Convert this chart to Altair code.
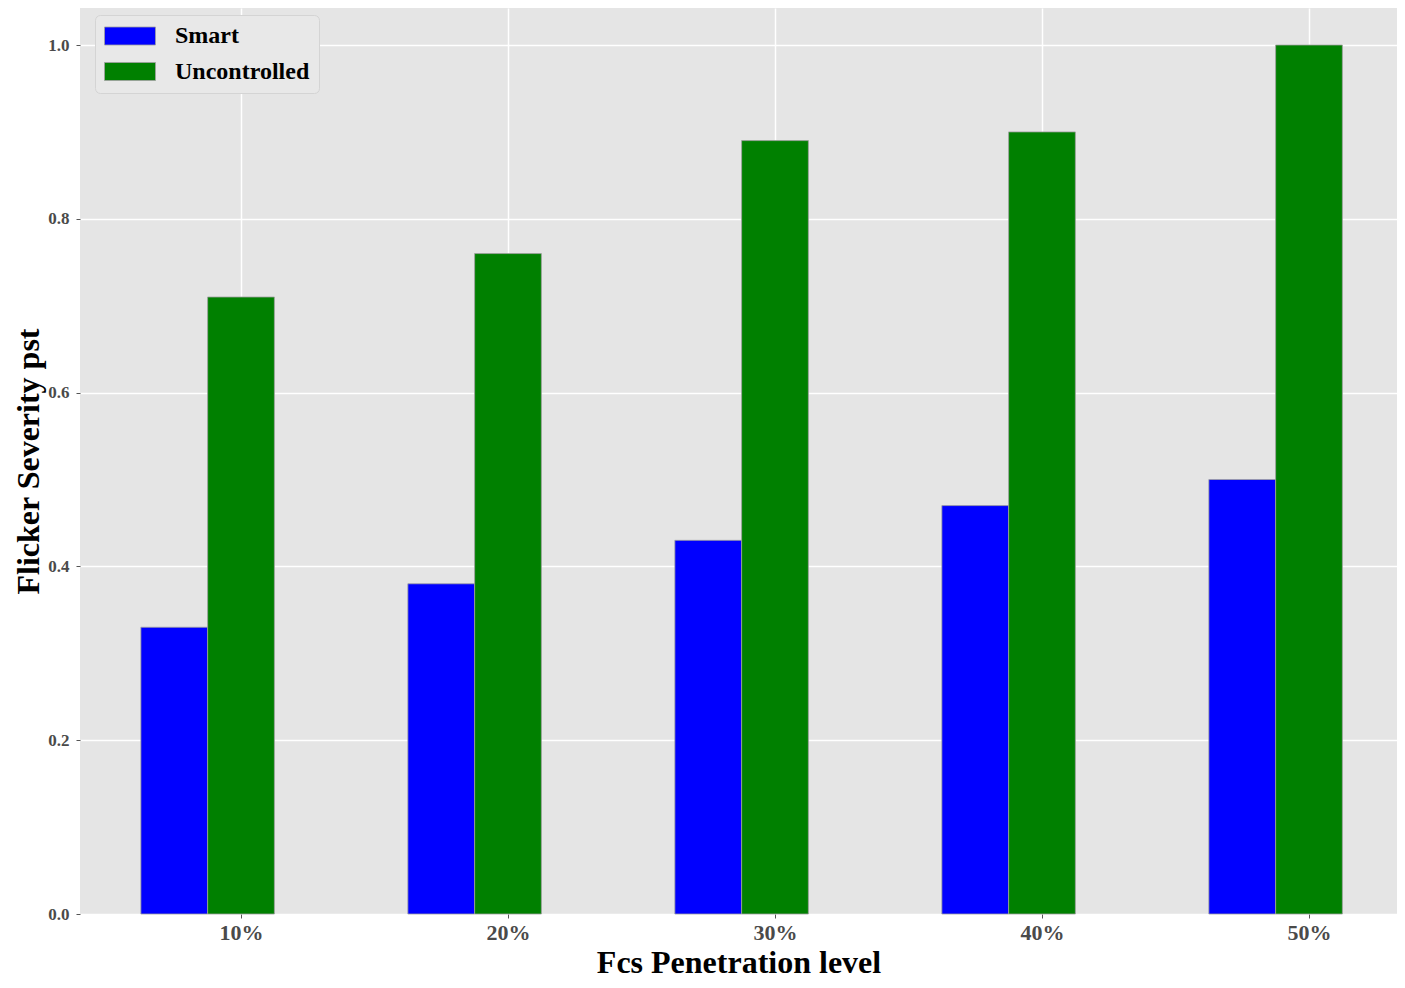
import json
import altair as alt
import pandas as pd

categories = ["10%", "20%", "30%", "40%", "50%"]
series = ["Smart", "Uncontrolled"]
smart = [0.33, 0.38, 0.43, 0.47, 0.50]
uncontrolled = [0.71, 0.76, 0.89, 0.90, 1.00]
colors = ["#0000ff", "#008000"]

bar_w = 0.25
offsets = {"Smart": -0.25, "Uncontrolled": 0.0}
rows = []
for i, cat in enumerate(categories):
    for s, vals in zip(series, [smart, uncontrolled]):
        c = i + offsets[s]
        rows.append({"cat": cat, "series": s, "value": vals[i],
                     "x0": c - bar_w / 2, "x1": c + bar_w / 2})
df = pd.DataFrame(rows)

FONT = "Liberation Serif"
label_expr = json.dumps(categories) + "[datum.value]"

bars = alt.Chart(df).mark_bar(stroke="#a0a0a0", strokeWidth=0.8).encode(
    x=alt.X("x0:Q",
            scale=alt.Scale(domain=[-0.603, 4.3296], nice=False, zero=False),
            axis=alt.Axis(values=[0, 1, 2, 3, 4], labelExpr=label_expr,
                          title="Fcs Penetration level",
                          titleFontSize=32, titleY=58, titleBaseline="alphabetic",
                          labelFontSize=22, labelPadding=4)),
    x2="x1:Q",
    y=alt.Y("value:Q",
            scale=alt.Scale(domain=[0, 1.0426], nice=False),
            axis=alt.Axis(values=[0, 0.2, 0.4, 0.6, 0.8, 1.0], format=".1f",
                          title="Flicker Severity pst",
                          titleFontSize=32, titleX=-42, titleBaseline="alphabetic",
                          labelFontSize=17, labelPadding=7)),
    y2=alt.datum(0),
    color=alt.Color("series:N",
                    scale=alt.Scale(domain=series, range=colors),
                    legend=alt.Legend(title=None, orient="none", legendX=15, legendY=7,
                                      fillColor="#e8e8e8", strokeColor="#d4d4d4",
                                      cornerRadius=5, padding=9,
                                      symbolType="M-2.833,-1L2.833,-1L2.833,1L-2.833,1Z",
                                      symbolSize=324, symbolOffset=14,
                                      symbolStrokeColor="#a0a0a0",
                                      symbolStrokeWidth=0.8,
                                      labelFont=FONT, labelFontSize=24,
                                      labelFontWeight="bold", labelColor="black",
                                      labelOffset=33, rowPadding=11.5)),
)

chart = bars.properties(
    width=1317, height=906,
    background="white",
    autosize=alt.AutoSizeParams(type="none"),
    padding={"left": 72, "top": 0, "right": 0, "bottom": 66},
).configure_view(
    fill="#e5e5e5", stroke=None
).configure_axis(
    labelFont=FONT, labelFontWeight="bold", labelColor="#4a4a4a",
    titleFont=FONT, titleFontWeight="bold", titleColor="black",
    grid=True, gridColor="white", gridWidth=1.5,
    domain=False, tickColor="#555555", tickSize=4, tickWidth=1,
)

chart.save("out.html", embed_options={"renderer": "svg", "actions": False})
